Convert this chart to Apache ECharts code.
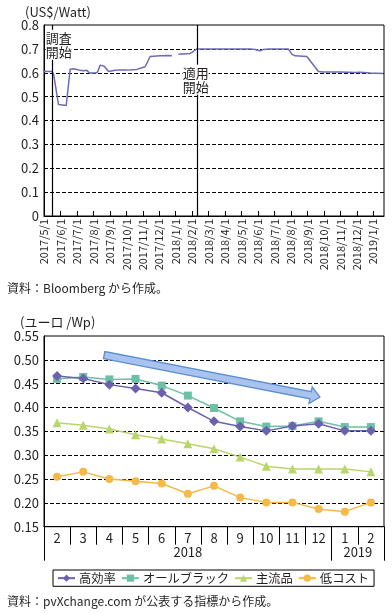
<!DOCTYPE html>
<html>
<head>
<meta charset="utf-8">
<script src="https://cdn.jsdelivr.net/npm/echarts@6/dist/echarts.min.js"></script>
<style>
html,body{margin:0;padding:0;background:#fff;}
#chart{width:392px;height:614px;}
</style>
</head>
<body>
<div id="chart"></div>
<script>
// ---------- Top chart: price (US$/Watt), x = months since 2017/5/1 ----------
const topTickLabels = ['2017/5/1','2017/6/1','2017/7/1','2017/8/1','2017/9/1','2017/10/1','2017/11/1','2017/12/1','2018/1/1','2018/2/1','2018/3/1','2018/4/1','2018/5/1','2018/6/1','2018/7/1','2018/8/1','2018/9/1','2018/10/1','2018/11/1','2018/12/1','2019/1/1'];
const topX = [0, 0.48, 0.58, 0.88, 1.35, 1.59, 1.79, 2.2, 2.4, 2.6, 2.76, 3.11, 3.25, 3.41, 3.66, 3.92, 4.32, 4.5, 5.03, 5.64, 5.74, 6.14, 6.25, 6.45, 7.06, 7.54, 7.77, 7.97, 8.17, 8.88, 9.08, 9.28, 10.09, 11.3, 12.52, 12.82, 13.12, 13.3, 13.73, 14.84, 15.05, 15.25, 15.96, 16.67, 16.95, 17.98, 18.9, 19.2, 19.8, 20.6];
const topY = [0.605, 0.605, 0.595, 0.467, 0.463, 0.615, 0.617, 0.61, 0.608, 0.61, 0.599, 0.599, 0.602, 0.632, 0.627, 0.605, 0.61, 0.611, 0.611, 0.614, 0.622, 0.625, 0.622, 0.668, 0.671, 0.672, 0.671, null, 0.678, 0.681, 0.69, 0.70, 0.70, 0.699, 0.70, 0.697, 0.692, 0.697, 0.699, 0.70, 0.678, 0.671, 0.668, 0.605, 0.603, 0.603, 0.601, 0.602, 0.599, 0.597];
const topEvents = [0.5, 9.3];              // 調査開始, 適用開始 (month index)
const topEventLabels = ['調査\n開始', '適用\n開始'];
const topEventLabelPos = [[0.89, 0.717], [9.21, 0.571]];

// ---------- Bottom chart: module prices (ユーロ/Wp) ----------
const months = ['2','3','4','5','6','7','8','9','10','11','12','1','2'];
const yearLabels = ['2018', '2019'];
const yearLabelPos = [5.5, 12];
const yearBounds = [0, 11, 13];
const highEff  = [0.466, 0.461, 0.448, 0.440, 0.431, 0.400, 0.371, 0.360, 0.351, 0.361, 0.366, 0.351, 0.351];
const allBlack = [0.460, 0.464, 0.459, 0.460, 0.446, 0.425, 0.399, 0.371, 0.360, 0.361, 0.371, 0.359, 0.359];
const mainstream = [0.368, 0.363, 0.355, 0.343, 0.334, 0.324, 0.3135, 0.296, 0.277, 0.271, 0.271, 0.271, 0.265];
const lowCost  = [0.255, 0.265, 0.250, 0.2455, 0.2405, 0.219, 0.2357, 0.211, 0.201, 0.201, 0.187, 0.1816, 0.201];
const seriesNames = ['高効率', 'オールブラック', '主流品', '低コスト'];
const trendArrow = [[2.3, 0.51, 10.55, 0.422]];

const FONT = '"Noto Sans CJK JP", "Noto Sans", sans-serif';
const TXT = '#231f20';
const chart = echarts.init(document.getElementById('chart'), null, {renderer: 'canvas'});

const dashed = {show: true, lineStyle: {color: '#000', type: [4, 2], width: 1}, showMinLine: false, showMaxLine: false};
const txt = (s, x, y, size) => ({type: 'text', x: x, y: y, z: 100, style: {text: s, fill: TXT, font: `${size}px ${FONT}`, align: 'left', verticalAlign: 'middle'}});

const option = {
  backgroundColor: '#fff',
  textStyle: {fontFamily: FONT, color: TXT},
  animation: false,
  graphic: [
    txt('(US$/Watt)', 25, 12, 13),
    txt('資料：Bloomberg から作成。', 7, 288, 12),
    txt('(ユーロ /Wp)', 20, 322, 13),
    txt('資料：pvXchange.com が公表する指標から作成。', 7, 601, 12)
  ],
  legend: {
    left: 53, top: 570,
    data: seriesNames,
    borderColor: '#000', borderWidth: 1,
    padding: [2, 5, 2, 4],
    itemGap: 5, itemWidth: 17, itemHeight: 9,
    textStyle: {fontSize: 12.3, color: TXT, fontFamily: FONT, padding: [0, 0, 0, -1]}
  },
  grid: [
    {left: 44, right: 8, top: 25, height: 191, show: true, borderColor: '#000', borderWidth: 1, backgroundColor: 'transparent'},
    {left: 44, right: 8, top: 336, height: 190.7, show: true, borderColor: '#000', borderWidth: 1, backgroundColor: 'transparent'}
  ],
  xAxis: [
    {
      gridIndex: 0, type: 'value', min: 0, max: 20.65, interval: 1,
      axisLine: {show: true, lineStyle: {color: '#000', width: 1}},
      axisTick: {show: true, inside: true, length: 5, lineStyle: {color: '#000'}},
      axisLabel: {
        rotate: 90, fontSize: 11, margin: 3, color: TXT, fontFamily: FONT, showMaxLabel: false,
        formatter: v => (Number.isInteger(v) && topTickLabels[v]) ? topTickLabels[v] : ''
      },
      splitLine: {show: false}
    },
    {
      gridIndex: 1, type: 'category', data: months, boundaryGap: true,
      axisLine: {show: true, lineStyle: {color: '#000', width: 1}},
      axisTick: {show: true, length: 18, alignWithLabel: false, interval: 0, lineStyle: {color: '#000'}},
      axisLabel: {fontSize: 13, margin: 5, color: TXT, fontFamily: FONT, interval: 0},
      splitLine: {show: false}
    },
    {
      gridIndex: 1, type: 'value', min: 0, max: 13, position: 'bottom',
      axisLine: {show: false},
      axisTick: {show: true, length: 34, customValues: yearBounds, lineStyle: {color: '#000'}},
      axisLabel: {
        show: true, fontSize: 13, margin: 19, color: TXT, fontFamily: FONT,
        customValues: yearLabelPos,
        formatter: v => { const i = yearLabelPos.indexOf(v); return i >= 0 ? yearLabels[i] : ''; }
      },
      splitLine: {show: false}
    }
  ],
  yAxis: [
    {
      gridIndex: 0, type: 'value', min: 0, max: 0.8, interval: 0.1,
      axisLine: {show: true, lineStyle: {color: '#000', width: 1}},
      axisTick: {show: false},
      axisLabel: {fontSize: 13, margin: 5, color: TXT, fontFamily: FONT, formatter: v => v === 0 ? '0' : v.toFixed(1)},
      splitLine: dashed
    },
    {
      gridIndex: 1, type: 'value', min: 0.15, max: 0.55, interval: 0.05,
      axisLine: {show: true, lineStyle: {color: '#000', width: 1}},
      axisTick: {show: false},
      axisLabel: {fontSize: 13, margin: 5, color: TXT, fontFamily: FONT, formatter: v => v.toFixed(2)},
      splitLine: dashed
    }
  ],
  series: [
    {
      name: 'price', type: 'line', xAxisIndex: 0, yAxisIndex: 0,
      data: topX.map((x, i) => [x, topY[i]]),
      showSymbol: false, symbol: 'none', connectNulls: false,
      lineStyle: {color: '#6b6bb8', width: 1.5}, itemStyle: {color: '#6b6bb8'},
      z: 3,
      markLine: {
        silent: true, symbol: ['none', 'none'],
        lineStyle: {color: '#000', width: 1.2, type: 'solid'},
        label: {show: false},
        data: topEvents.map(x => ({xAxis: x}))
      }
    },
    {
      name: 'events', type: 'scatter', xAxisIndex: 0, yAxisIndex: 0, data: [], z: 10,
      markPoint: {
        symbol: 'circle', symbolSize: 0, silent: true,
        label: {show: true, position: 'inside', formatter: '{b}', fontSize: 13, lineHeight: 14, color: TXT, fontFamily: FONT, backgroundColor: '#fff', padding: [1, 0, 1, 0]},
        data: topEventLabelPos.map((c, i) => ({name: topEventLabels[i], coord: c}))
      }
    },
    {
      name: 'arrow', type: 'custom', xAxisIndex: 2, yAxisIndex: 1, z: 1,
      data: trendArrow,
      encode: {x: [0, 2], y: [1, 3]},
      renderItem: (params, api) => {
        const p0 = api.coord([api.value(0), api.value(1)]);
        const p1 = api.coord([api.value(2), api.value(3)]);
        const dx = p1[0] - p0[0], dy = p1[1] - p0[1];
        const L = Math.sqrt(dx * dx + dy * dy);
        const ux = dx / L, uy = dy / L, nx = -uy, ny = ux;
        const sw = 3.6, hw = 8.5, hl = 9.5;
        const bx = p1[0] - ux * hl, by = p1[1] - uy * hl;
        const pts = [
          [p0[0] + nx * sw, p0[1] + ny * sw],
          [bx + nx * sw, by + ny * sw],
          [bx + nx * hw, by + ny * hw],
          [p1[0], p1[1]],
          [bx - nx * hw, by - ny * hw],
          [bx - nx * sw, by - ny * sw],
          [p0[0] - nx * sw, p0[1] - ny * sw]
        ];
        return {type: 'polygon', shape: {points: pts}, style: {fill: '#a9c3ee', stroke: '#5b8fd2', lineWidth: 1.3}};
      }
    },
    {
      name: seriesNames[0], type: 'line', xAxisIndex: 1, yAxisIndex: 1, data: highEff,
      symbol: 'diamond', symbolSize: 10, z: 6,
      lineStyle: {color: '#6b62ad', width: 1.5}, itemStyle: {color: '#6b62ad'}
    },
    {
      name: seriesNames[1], type: 'line', xAxisIndex: 1, yAxisIndex: 1, data: allBlack,
      symbol: 'rect', symbolSize: 8, z: 5,
      lineStyle: {color: '#6dc0a6', width: 1.5}, itemStyle: {color: '#6dc0a6'}
    },
    {
      name: seriesNames[2], type: 'line', xAxisIndex: 1, yAxisIndex: 1, data: mainstream,
      symbol: 'triangle', symbolSize: 9, z: 4,
      lineStyle: {color: '#b8d66a', width: 1.5}, itemStyle: {color: '#b8d66a'}
    },
    {
      name: seriesNames[3], type: 'line', xAxisIndex: 1, yAxisIndex: 1, data: lowCost,
      symbol: 'circle', symbolSize: 8, z: 4,
      lineStyle: {color: '#f5b947', width: 1.5}, itemStyle: {color: '#f5b947'}
    }
  ]
};
chart.setOption(option);
</script>
</body>
</html>
